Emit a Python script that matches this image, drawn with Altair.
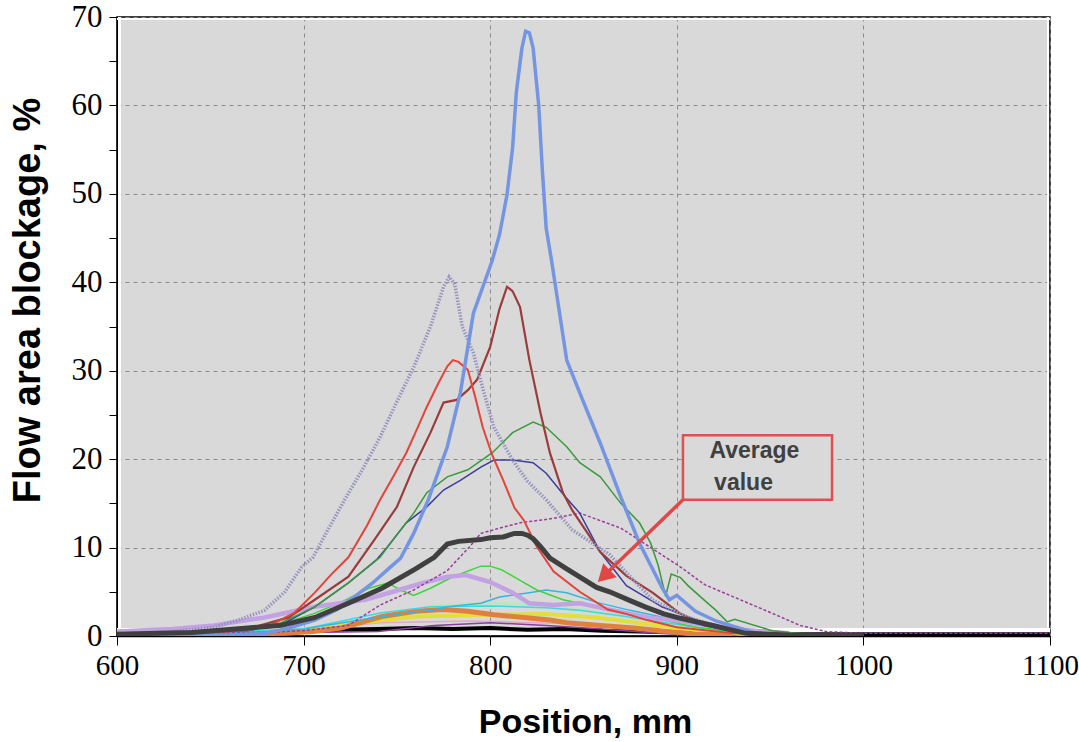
import altair as alt
import pandas as pd

# ---------------- data ----------------
blue_x = [600, 660, 680, 692, 706, 718, 727, 737, 745, 752, 759, 767, 777, 784, 791, 801, 805, 809, 812, 814, 817, 819, 821, 823, 826, 828, 830, 833, 841, 848, 859, 870, 880, 886, 892, 896, 900, 910, 921, 941, 955]
blue_y = [0.0, 0.1, 0.3, 0.9, 1.8, 3.0, 4.4, 6.0, 7.5, 8.8, 11.6, 15.5, 21.4, 27.5, 36.5, 42.4, 45.4, 49.9, 55.2, 61.5, 66.5, 68.4, 68.2, 66.5, 60.0, 52.5, 46.1, 42.3, 31.2, 27.5, 21.8, 15.7, 10.5, 8.0, 5.5, 4.1, 4.6, 2.8, 1.7, 0.4, 0.0]

dot_x = [600, 630, 652, 665, 679, 690, 699, 705, 713, 722, 732, 741, 750, 759, 768, 775, 778, 781, 785, 791, 796, 802, 812, 820, 830, 844, 864, 876, 887, 906, 930, 950, 1000]
dot_y = [0.2, 0.5, 1.0, 1.8, 2.9, 5.0, 7.8, 8.9, 12.0, 15.4, 19.0, 22.5, 26.5, 30.4, 35.0, 39.5, 40.6, 39.8, 35.0, 32.0, 28.0, 23.6, 19.9, 17.5, 15.4, 12.0, 9.2, 6.5, 4.1, 2.1, 0.6, 0.2, 0.1]

red_x = [600, 660, 680, 695, 706, 715, 724, 734, 741, 748, 755, 761, 766, 772, 777, 780, 783, 788, 792, 796, 801, 807, 813, 818, 825, 834, 848, 863, 873, 884, 900, 930, 960]
red_y = [0.1, 0.5, 1.0, 2.6, 4.9, 7.0, 8.9, 12.5, 15.4, 18.0, 20.7, 23.5, 25.9, 28.5, 30.5, 31.2, 31.0, 30.1, 27.0, 23.6, 20.5, 17.6, 14.5, 13.1, 10.1, 7.3, 5.0, 3.0, 2.5, 1.8, 1.0, 0.3, 0.1]

maroon_x = [600, 670, 692, 706, 724, 738, 750, 759, 768, 775, 782, 788, 793, 800, 805, 809, 812, 816, 821, 827, 832, 839, 844, 859, 873, 887, 902, 915, 935, 960]
maroon_y = [0.1, 0.8, 2.1, 4.1, 6.7, 10.9, 14.6, 19.1, 23.0, 26.4, 26.7, 27.8, 29.0, 32.7, 37.0, 39.5, 39.0, 37.2, 31.2, 25.2, 20.7, 16.2, 14.2, 9.5, 6.8, 4.9, 2.5, 1.2, 0.4, 0.1]

green_x = [600, 670, 688, 706, 724, 741, 748, 759, 766, 777, 788, 801, 812, 823, 830, 841, 848, 859, 870, 880, 886, 890, 894, 897, 902, 906, 915, 921, 927, 931, 951, 970, 990]
green_y = [0.1, 0.6, 1.5, 3.3, 6.0, 8.9, 10.9, 13.9, 16.2, 18.0, 18.8, 20.7, 23.0, 24.2, 23.6, 21.4, 19.6, 18.0, 15.0, 12.8, 10.5, 8.0, 4.5, 7.0, 6.6, 5.7, 4.0, 2.9, 1.6, 1.9, 0.6, 0.2, 0.1]

navy_x = [600, 670, 690, 706, 724, 739, 745, 755, 766, 775, 784, 795, 802, 812, 823, 830, 840, 848, 859, 873, 892, 912, 931, 960]
navy_y = [0.1, 0.6, 1.5, 3.3, 6.0, 8.6, 10.1, 12.8, 14.6, 16.5, 17.6, 19.1, 19.9, 19.9, 19.6, 18.4, 15.8, 13.9, 9.5, 5.7, 3.3, 1.7, 0.6, 0.1]

pdash_x = [600, 640, 680, 700, 724, 741, 759, 777, 789, 795, 805, 816, 834, 848, 857, 870, 886, 902, 915, 934, 953, 966, 980, 1000, 1100]
pdash_y = [0.2, 0.3, 0.4, 0.6, 1.2, 3.5, 5.2, 7.4, 10.1, 11.6, 12.2, 12.8, 13.3, 13.9, 13.2, 12.2, 10.0, 7.8, 5.8, 4.1, 2.4, 1.2, 0.5, 0.3, 0.3]

avg_x = [600, 640, 670, 688, 706, 724, 742, 760, 770, 777, 783, 795, 800, 807, 813, 817, 820, 823, 827, 832, 841, 857, 864, 875, 883, 893, 902, 921, 937, 960, 1000]
avg_y = [0.2, 0.4, 0.9, 1.2, 2.1, 3.7, 5.4, 7.6, 8.9, 10.4, 10.7, 10.9, 11.1, 11.2, 11.6, 11.6, 11.4, 11.0, 10.1, 8.8, 7.6, 5.5, 5.0, 4.0, 3.3, 2.5, 2.0, 1.1, 0.3, 0.1, 0.05]

lav_x = [600, 630, 652, 679, 706, 733, 751, 764, 777, 787, 800, 812, 821, 834, 848, 866, 884, 898, 930, 960]
lav_y = [0.5, 0.8, 1.2, 2.1, 3.3, 4.1, 5.2, 6.0, 6.7, 6.9, 6.1, 4.9, 3.7, 3.5, 3.7, 2.9, 2.1, 1.8, 0.8, 0.3]

lime_x = [600, 670, 690, 705, 720, 735, 745, 752, 759, 768, 780, 795, 800, 806, 816, 825, 839, 857, 875, 893, 910, 930, 960]
lime_y = [0.1, 0.6, 1.5, 2.5, 3.8, 5.4, 6.0, 5.2, 4.6, 5.4, 6.7, 7.9, 7.9, 7.5, 6.3, 5.2, 4.1, 3.3, 2.6, 1.8, 1.0, 0.5, 0.1]

cyan_x = [600, 680, 700, 730, 759, 769, 777, 795, 805, 821, 830, 841, 857, 875, 893, 910, 930, 960]
cyan_y = [0.1, 0.5, 0.8, 1.8, 2.7, 2.9, 3.3, 3.7, 4.4, 4.9, 5.2, 4.9, 3.8, 2.9, 2.1, 1.3, 0.6, 0.1]

turq_x = [600, 700, 741, 768, 800, 830, 848, 870, 890, 920, 950]
turq_y = [0.1, 0.8, 2.6, 3.3, 3.4, 3.2, 2.9, 2.3, 1.6, 0.7, 0.2]

mint_x = [600, 700, 725, 743, 769, 796, 823, 850, 877, 900, 930, 960]
mint_y = [0.1, 0.8, 1.5, 2.1, 3.3, 3.7, 3.5, 2.9, 2.1, 1.4, 0.6, 0.1]

yellow_x = [600, 700, 730, 760, 800, 830, 857, 875, 900, 920, 950]
yellow_y = [0.1, 0.5, 1.5, 2.2, 2.4, 2.5, 2.1, 1.6, 0.9, 0.4, 0.1]

orange_x = [600, 690, 705, 720, 730, 742, 760, 775, 788, 802, 818, 832, 841, 859, 877, 895, 910, 930]
orange_y = [0.05, 0.3, 0.5, 0.9, 1.5, 2.2, 2.8, 3.0, 2.8, 2.4, 2.1, 1.8, 1.5, 1.2, 0.9, 0.5, 0.2, 0.1]

pink_x = [600, 700, 740, 790, 840, 880, 910, 940]
pink_y = [0.1, 0.5, 1.5, 1.7, 1.4, 0.8, 0.3, 0.1]

dpurple_x = [600, 740, 770, 800, 830, 860, 890, 920]
dpurple_y = [0.1, 0.5, 1.2, 1.5, 1.2, 0.8, 0.3, 0.1]

black_x = [600, 640, 660, 680, 700, 720, 740, 760, 780, 800, 820, 840, 860, 880, 900, 920, 940, 960, 1000, 1100]
black_y = [0.3, 0.3, 0.4, 0.5, 0.6, 0.7, 0.8, 0.9, 0.8, 0.9, 0.7, 0.8, 0.6, 0.5, 0.4, 0.3, 0.3, 0.2, 0.2, 0.2]

# annotation
box_x = [903.3, 983.2]
box_y = [15.4, 22.7]
note_lines = ["Average", "value"]
note_x = [917.5, 920.0]
note_y = [20.9, 17.3]
arrow_x = [903.3, 862.0]
arrow_y = [15.4, 7.0]

x_ticks = [600, 700, 800, 900, 1000, 1100]
y_ticks = list(range(0, 75, 5))

# ---------------- chart ----------------
W, H = 933, 619
BG = "#d9d9d9"

xs = alt.Scale(domain=[600, 1100], nice=False, zero=False)
ys = alt.Scale(domain=[0, 70], nice=False)

x_axis = alt.Axis(values=x_ticks, format="d", title="Position, mm", grid=True, gridColor="#8c8c8c",
                  gridDash=[4, 4], gridWidth=1, domainColor="black", domainWidth=1.5,
                  tickColor="black", tickSize=9, tickWidth=1, labelFont="Liberation Serif",
                  labelFontSize=29, labelColor="black", labelPadding=6, labelFlush=False,
                  labelOverlap=False,
                  titleFont="Liberation Sans", titleFontWeight="bold", titleFontSize=34,
                  titleColor="black", titleX=468, titleY=86, titleBaseline="middle",
                  titleAlign="center")
y_axis = alt.Axis(values=y_ticks, title="Flow area blockage, %",
                  labelExpr="datum.value % 10 === 0 ? datum.label : ''",
                  grid=True, gridColor="#8c8c8c", gridDash=[4, 4], gridWidth=1,
                  gridOpacity={"condition": {"test": "datum.value % 10 === 0", "value": 1}, "value": 0},
                  domainColor="black", domainWidth=1.5, tickColor="black", tickSize=8,
                  tickWidth=1, labelFont="Liberation Serif", labelFontSize=31,
                  labelColor="black", labelPadding=7, labelFlush=False, labelOverlap=False,
                  titleFont="Liberation Sans", titleFontWeight="bold", titleFontSize=38,
                  titleColor="black", titleX=-89, titleY=283, titleBaseline="middle",
                  titleAlign="center", titleAngle=270)


def X(field="x"):
    return alt.X(f"{field}:Q", scale=xs, axis=x_axis)


def Y(field="y"):
    return alt.Y(f"{field}:Q", scale=ys, axis=y_axis)


one = pd.DataFrame({"k": [0]})
strips = [
    alt.Chart(one).mark_rect(color="white").encode(x=alt.value(1), x2=alt.value(4), y=alt.value(0), y2=alt.value(H)),
    alt.Chart(one).mark_rect(color="white").encode(x=alt.value(0), x2=alt.value(W), y=alt.value(1), y2=alt.value(3)),
    alt.Chart(one).mark_rect(color="white").encode(x=alt.value(W - 3), x2=alt.value(W - 1), y=alt.value(0), y2=alt.value(H)),
    alt.Chart(one).mark_rect(color="white").encode(x=alt.value(0), x2=alt.value(W), y=alt.value(H - 8), y2=alt.value(H - 1)),
]

series = [
    ("black", black_x, black_y, "#000000", 4.0, None),
    ("pink", pink_x, pink_y, "#e6a6c6", 1.5, None),
    ("dpurple", dpurple_x, dpurple_y, "#8a3e9e", 1.5, None),
    ("mint", mint_x, mint_y, "#bfe3c6", 4.0, None),
    ("yellow", yellow_x, yellow_y, "#e2df3c", 4.0, None),
    ("orange", orange_x, orange_y, "#e0803e", 5.0, None),
    ("turq", turq_x, turq_y, "#3fd8e0", 1.5, None),
    ("cyan", cyan_x, cyan_y, "#37b5dc", 1.5, None),
    ("lime", lime_x, lime_y, "#3ed43e", 1.5, None),
    ("lav", lav_x, lav_y, "#c3a2e4", 4.5, None),
    ("pdash", pdash_x, pdash_y, "#9b3b9b", 1.5, [3, 2]),
    ("navy", navy_x, navy_y, "#3c3c9c", 1.5, None),
    ("green", green_x, green_y, "#3a9a3a", 1.5, None),
    ("maroon", maroon_x, maroon_y, "#9a3c3c", 2.2, None),
    ("dot", dot_x, dot_y, "#9595c0", 3.5, [1.5, 1.5]),
    ("red", red_x, red_y, "#e4433a", 2.0, None),
    ("blue", blue_x, blue_y, "#7395e2", 3.5, None),
    ("avg", avg_x, avg_y, "#404040", 5.0, None),
]

layers = list(strips)
for name, sx, sy, col, w, dash in series:
    df = pd.DataFrame({"x": sx, "y": sy, "o": list(range(len(sx)))})
    kw = dict(color=col, strokeWidth=w, clip=True)
    if dash:
        kw["strokeDash"] = dash
    layers.append(alt.Chart(df).mark_line(**kw).encode(x=X(), y=Y(), order="o:Q"))

box_df = pd.DataFrame({"x": [box_x[0]], "x2": [box_x[1]], "y": [box_y[0]], "y2": [box_y[1]]})
layers.append(alt.Chart(box_df).mark_rect(fill=BG, stroke="#e05050", strokeWidth=2.5).encode(
    x=X(), x2="x2:Q", y=Y(), y2="y2:Q"))

note_df = pd.DataFrame({"x": note_x, "y": note_y, "t": note_lines})
layers.append(alt.Chart(note_df).mark_text(font="Liberation Sans", fontWeight="bold", fontSize=23,
                                            color="#404040", align="left", baseline="middle").encode(
    x=X(), y=Y(), text="t:N"))

arr_df = pd.DataFrame({"x": [arrow_x[0]], "y": [arrow_y[0]], "x2": [arrow_x[1]], "y2": [arrow_y[1]]})
layers.append(alt.Chart(arr_df).mark_rule(color="#e04848", strokeWidth=3.5).encode(
    x=X(), y=Y(), x2="x2:Q", y2="y2:Q"))
head_df = pd.DataFrame({"x": [arrow_x[1]], "y": [arrow_y[1]]})
layers.append(alt.Chart(head_df).mark_point(shape="triangle", filled=True, color="#e04848",
                                             opacity=1, size=380, angle=226).encode(x=X(), y=Y()))

chart = alt.layer(*layers).properties(
    width=W, height=H,
    autosize=alt.AutoSizeParams(type="none"),
    padding={"left": 117, "top": 17, "right": 29, "bottom": 106},
    background="white",
).configure_view(fill=BG, stroke="black", strokeWidth=1.5)

chart.save("out.html", embed_options={"renderer": "svg", "actions": False})
